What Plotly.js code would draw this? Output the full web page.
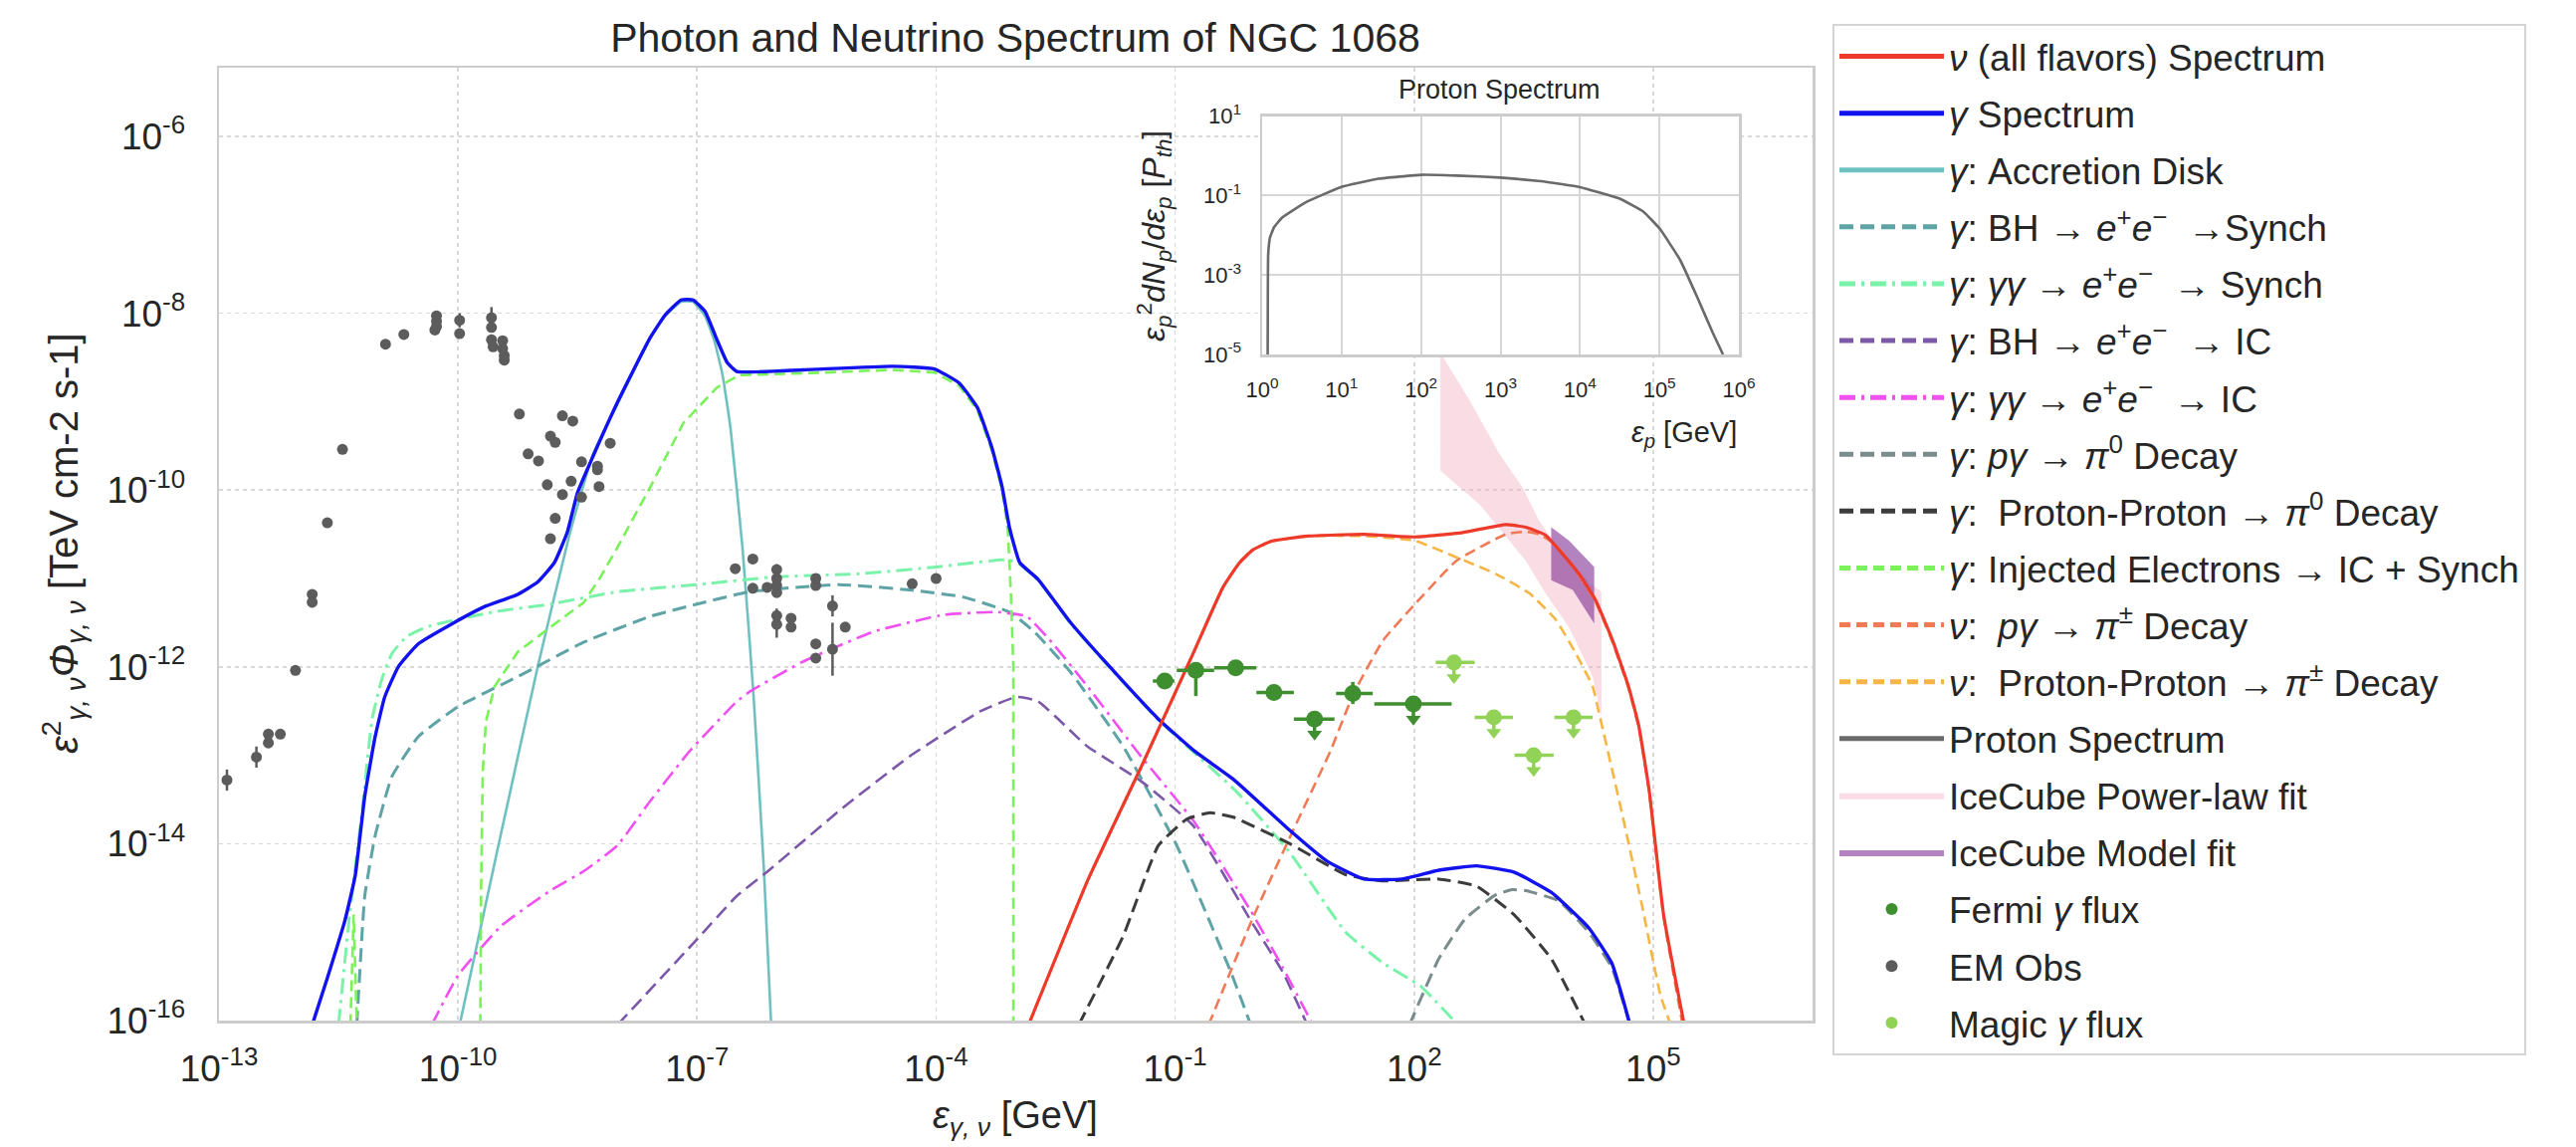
<!DOCTYPE html>
<html><head><meta charset="utf-8">
<script src="https://cdn.plot.ly/plotly-3.0.1.min.js"></script>
<style>html,body{margin:0;padding:0;background:#fff;}#chart{width:2588px;height:1152px;}</style>
</head><body><div id="chart"></div>
<script>
// ---------- DATA (log10 of energy [GeV] and log10 of flux [TeV cm-2 s-1]) ----------
const nuAll_logE = [-2.84,-2.09,-1.42,-0.76,-0.40,-0.20,-0.03,0.20,0.67,1.37,2.00,2.61,3.15,3.40,3.65,3.86,4.07,4.28,4.49,4.69,4.82,4.95,5.13,5.39];
const nuAll_logF = [-16.05,-14.40,-13.12,-11.82,-11.10,-10.83,-10.68,-10.58,-10.52,-10.50,-10.53,-10.48,-10.39,-10.42,-10.51,-10.72,-10.95,-11.25,-11.70,-12.22,-12.67,-13.40,-14.80,-16.05];

const gam_logE = [-11.83,-11.63,-11.42,-11.29,-11.17,-11.04,-10.92,-10.75,-10.50,-10.09,-9.67,-9.25,-9.00,-8.79,-8.63,-8.50,-8.34,-8.00,-7.59,-7.40,-7.20,-7.05,-6.90,-6.75,-6.62,-6.50,-5.67,-4.55,-4.02,-3.71,-3.48,-3.30,-3.17,-3.08,-2.95,-2.72,-2.32,-1.88,-1.21,-0.76,-0.27,0.44,0.91,1.37,1.85,2.31,2.78,3.25,3.72,4.19,4.48,4.71];
const gam_logF = [-16.05,-15.49,-14.87,-14.36,-13.46,-12.79,-12.34,-12.00,-11.74,-11.52,-11.32,-11.18,-11.04,-10.82,-10.48,-10.03,-9.69,-9.01,-8.28,-8.02,-7.85,-7.85,-7.98,-8.30,-8.56,-8.66,-8.64,-8.60,-8.63,-8.79,-9.07,-9.52,-9.97,-10.42,-10.82,-11.01,-11.49,-11.94,-12.59,-12.95,-13.27,-13.85,-14.20,-14.40,-14.40,-14.30,-14.25,-14.32,-14.55,-14.95,-15.35,-16.05];

const disk_logE = [-9.98,-9.50,-9.00,-8.60,-8.30,-8.00,-7.60,-7.40,-7.20,-7.05,-6.90,-6.78,-6.68,-6.58,-6.43,-6.29,-6.16,-6.07];
const disk_logF = [-16.05,-14.05,-12.00,-10.50,-9.58,-9.03,-8.30,-8.03,-7.87,-7.87,-8.03,-8.32,-8.70,-9.30,-10.65,-12.34,-14.31,-16.05];

const bhSyn_logE = [-11.27,-11.17,-11.04,-10.83,-10.50,-10.00,-9.25,-8.42,-7.59,-7.00,-6.34,-5.22,-4.33,-3.66,-3.08,-2.77,-2.32,-1.65,-0.98,-0.31,-0.05];
const bhSyn_logF = [-16.05,-14.59,-13.91,-13.24,-12.79,-12.45,-12.11,-11.72,-11.43,-11.29,-11.15,-11.07,-11.13,-11.21,-11.38,-11.60,-12.05,-12.90,-14.02,-15.43,-16.05];

const ggSyn_logE = [-11.50,-11.36,-11.20,-11.08,-10.96,-10.83,-10.65,-10.40,-10.09,-9.50,-8.84,-8.00,-7.00,-6.00,-5.00,-4.00,-3.17,-3.05,-2.95,-2.72,-2.32,-1.88,-1.21,-0.76,-0.22,0.44,1.14,1.61,2.08,2.55];
const ggSyn_logF = [-16.05,-14.80,-13.60,-12.60,-12.15,-11.85,-11.66,-11.55,-11.48,-11.37,-11.29,-11.15,-11.07,-10.98,-10.95,-10.87,-10.79,-10.80,-10.84,-11.02,-11.50,-11.95,-12.60,-12.97,-13.42,-14.10,-15.00,-15.35,-15.61,-16.05];

const bhIC_logE = [-8.00,-7.00,-6.50,-6.11,-5.22,-4.33,-3.44,-2.99,-2.72,-2.10,-1.43,-0.77,-0.05,0.35,0.66];
const bhIC_logF = [-16.05,-15.08,-14.59,-14.31,-13.63,-13.01,-12.50,-12.34,-12.39,-12.90,-13.29,-13.80,-14.87,-15.45,-16.05];

const ggIC_logE = [-10.33,-10.00,-9.46,-8.84,-8.42,-8.00,-7.59,-7.09,-6.50,-6.34,-5.67,-4.78,-3.90,-3.22,-2.86,-2.55,-2.10,-1.43,-0.77,-0.05,0.35,0.73];
const ggIC_logF = [-16.05,-15.49,-14.93,-14.53,-14.31,-14.02,-13.52,-12.95,-12.39,-12.28,-11.94,-11.60,-11.41,-11.38,-11.43,-11.72,-12.22,-13.01,-13.74,-14.76,-15.40,-16.05];

const pgPi0_logE = [1.94,2.31,2.64,3.02,3.23,3.40,3.82,4.19,4.48,4.71];
const pgPi0_logF = [-16.05,-15.30,-14.85,-14.58,-14.52,-14.53,-14.65,-15.00,-15.40,-16.05];

const ppPi0_logE = [-2.21,-1.65,-1.21,-0.85,-0.56,-0.27,0.44,1.14,1.61,2.31,2.78,3.25,3.72,4.15];
const ppPi0_logF = [-16.05,-15.04,-14.02,-13.72,-13.65,-13.70,-14.00,-14.35,-14.42,-14.40,-14.48,-14.80,-15.30,-16.05];

const inj_logE = [-11.35,-11.31,-11.27,null,-9.72,-9.71,-9.69,-9.65,-9.54,-9.25,-8.84,-8.42,-8.21,-8.00,-7.59,-7.17,-6.75,-6.50,-6.47,-5.67,-4.55,-4.02,-3.71,-3.48,-3.30,-3.17,-3.10,-3.06,-3.03,-3.03];
const inj_logF = [-16.05,-14.80,-16.05,null,-16.05,-14.50,-13.20,-12.62,-12.22,-11.83,-11.55,-11.27,-10.98,-10.65,-9.97,-9.24,-8.84,-8.72,-8.70,-8.68,-8.64,-8.67,-8.82,-9.10,-9.55,-10.00,-10.45,-11.20,-12.00,-16.05];

const nuPg_logE = [-0.58,-0.03,0.48,0.95,1.24,1.61,2.00,2.53,3.15,3.40,3.57,3.78,4.07,4.28,4.49,4.69,4.82,4.95,5.13,5.37];
const nuPg_logF = [-16.05,-14.85,-13.85,-12.95,-12.30,-11.70,-11.30,-10.80,-10.50,-10.47,-10.50,-10.62,-10.97,-11.27,-11.72,-12.24,-12.69,-13.42,-14.82,-16.05];

const nuPp_logE = [-2.84,-2.09,-1.42,-0.76,-0.40,-0.20,-0.03,0.20,0.67,1.37,2.00,2.53,3.03,3.45,3.78,4.03,4.24,4.32,4.62,4.86,5.09,5.22];
const nuPp_logF = [-16.05,-14.40,-13.12,-11.82,-11.10,-10.83,-10.68,-10.58,-10.52,-10.52,-10.57,-10.76,-10.95,-11.17,-11.47,-11.85,-12.22,-12.52,-13.70,-14.70,-15.71,-16.05];

// inset: proton spectrum, log10(eps_p [GeV]) and log10(eps^2 dN/deps [P_th])
const prot_logE = [0.070,0.072,0.076,0.10,0.15,0.25,0.55,0.99,1.46,2.00,2.45,3.00,3.51,4.00,4.50,4.80,5.01,5.26,5.48,5.67,5.80];
const prot_logN = [-5.00,-3.50,-2.50,-2.05,-1.80,-1.56,-1.17,-0.79,-0.58,-0.48,-0.50,-0.55,-0.64,-0.79,-1.08,-1.41,-1.85,-2.62,-3.58,-4.45,-5.00];

// IceCube bands (polygon outlines)
const icPL_logE = [2.33,2.70,3.07,3.36,3.57,3.74,4.00,4.20,4.35,4.35,4.24,3.94,3.65,3.40,2.82,2.33,2.33];
const icPL_logF = [-8.45,-8.99,-9.59,-9.97,-10.35,-10.57,-10.85,-11.05,-11.15,-12.56,-12.11,-11.55,-11.17,-10.80,-10.16,-9.78,-8.45];
const icMod_logE = [3.72,3.94,4.26,4.26,3.99,3.72,3.72];
const icMod_logF = [-10.42,-10.57,-10.87,-11.51,-11.13,-11.02,-10.42];

// Fermi points
const fermi_logE = [-1.13,-0.74,-0.24,0.24,0.75,1.23,1.99];
const fermi_logF = [-12.16,-12.04,-12.01,-12.29,-12.59,-12.30,-12.42];
const fermi_binLo = [-1.28,-0.98,-0.51,0.02,0.49,1.02,1.50];
const fermi_binHi = [-1.01,-0.51,0.02,0.49,1.00,1.48,2.47];
const fermi_errUp = [0.02,0.09,0.02,0.02,0.02,0.13,0.02];
const fermi_errDn = [0.02,0.29,0.02,0.02,0.20,0.12,0.20];
const fermi_uplim = [0,0,0,0,1,0,1];

// MAGIC points (upper limits)
const magic_logE = [2.50,3.00,3.50,4.00];
const magic_logF = [-11.95,-12.57,-13.00,-12.57];
const magic_binLo = [2.27,2.76,3.26,3.76];
const magic_binHi = [2.76,3.24,3.75,4.24];

// EM observations
const em_logE = [-12.90,-12.53,-12.38,-12.38,-12.23,-12.04,-11.83,-11.83,-11.64,-11.45,-10.91,-10.68,-10.27,-10.27,-10.27,-10.29,-9.98,-9.98,-9.58,-9.58,-9.58,-9.56,-9.44,-9.44,-9.42,-9.42,
  -9.23,-8.69,-8.56,-8.84,-8.78,-8.09,-9.12,-8.99,-8.45,-8.25,-8.25,-8.88,-8.58,-8.69,-8.45,-8.23,-8.78,-8.84,
  -6.52,-6.30,-6.30,-6.12,-6.00,-6.00,-6.00,-6.00,-6.00,-6.00,-5.82,-5.82,-5.51,-5.51,-5.51,-5.51,-5.30,-5.30,-5.14,-4.30,-4.00];
const em_logF = [-13.28,-13.02,-12.76,-12.86,-12.76,-12.04,-11.18,-11.27,-10.37,-9.54,-8.35,-8.24,-8.03,-8.09,-8.15,-8.19,-8.08,-8.23,-8.05,-8.16,-8.30,-8.38,-8.31,-8.40,-8.48,-8.53,
  -9.14,-9.16,-9.22,-9.39,-9.46,-9.47,-9.59,-9.67,-9.68,-9.73,-9.77,-9.94,-9.90,-10.05,-10.08,-9.96,-10.32,-10.55,
  -10.89,-10.78,-11.11,-11.10,-10.90,-11.00,-11.08,-11.16,-11.42,-11.52,-11.45,-11.55,-11.00,-11.08,-11.74,-11.90,-11.31,-11.80,-11.55,-11.06,-11.00];
const em_errDex = [0.12,0.12,0.04,0.04,0.05,0.04,0.04,0.04,0.03,0.03,0.03,0.03,0.04,0.04,0.04,0.04,0.08,0.04,0.12,0.05,0.05,0.05,0.05,0.05,0.05,0.05,
  0.03,0.03,0.03,0.03,0.03,0.03,0.03,0.03,0.03,0.03,0.03,0.03,0.03,0.03,0.03,0.03,0.03,0.03,
  0.03,0.03,0.03,0.03,0.06,0.05,0.05,0.05,0.08,0.15,0.05,0.05,0.05,0.05,0.05,0.05,0.12,0.30,0.04,0.03,0.03];

// ---------- helpers ----------
const P = v => (v === null ? null : Math.pow(10, v));
const L = a => a.map(P);
const FONT = 'Liberation Sans, Arial, Helvetica, sans-serif';
const TXT = '#262626';

function curve(name, le, lf, color, width, dash, rank, shape) {
  return {type:'scatter', mode:'lines', name:name, legendgroup:'g'+rank, x:L(le), y:L(lf), legendrank:rank,
    line:{color:color, width:width, dash:dash || 'solid', shape: shape || 'spline', smoothing:0.4},
    connectgaps:false, hoverinfo:'skip', cliponaxis:true};
}

const traces = [];
// bands first (behind the lines)
traces.push({type:'scatter', mode:'lines', name:'IceCube Power-law fit', legendgroup:'g14', x:L(icPL_logE), y:L(icPL_logF),
  fill:'toself', fillcolor:'rgba(245,180,196,0.45)', line:{width:0, color:'rgba(0,0,0,0)'}, legendrank:14, hoverinfo:'skip'});
traces.push({type:'scatter', mode:'lines', name:'IceCube Model fit', legendgroup:'g15', x:L(icMod_logE), y:L(icMod_logF),
  fill:'toself', fillcolor:'rgba(128,48,148,0.6)', line:{width:0, color:'rgba(0,0,0,0)'}, legendrank:15, hoverinfo:'skip'});

const DASH = '14px,7px', DASHT = '11px,6px', DDOT = '16px,6px,3px,6px';
traces.push(curve('<i>γ</i>: Accretion Disk', disk_logE, disk_logF, '#6fc1c1', 2.6, 'solid', 3));
traces.push(curve('<i>γ</i>: BH → <i>e</i><sup>+</sup><i>e</i><sup>−</sup>  →Synch', bhSyn_logE, bhSyn_logF, '#5ea3a6', 3, DASH, 4));
traces.push(curve('<i>γ</i>: <i>γγ</i> → <i>e</i><sup>+</sup><i>e</i><sup>−</sup>  → Synch', ggSyn_logE, ggSyn_logF, '#7af2aa', 3, DDOT, 5));
traces.push(curve('<i>γ</i>: BH → <i>e</i><sup>+</sup><i>e</i><sup>−</sup>  → IC', bhIC_logE, bhIC_logF, '#7c58a8', 2.6, DASH, 6));
traces.push(curve('<i>γ</i>: <i>γγ</i> → <i>e</i><sup>+</sup><i>e</i><sup>−</sup>  → IC', ggIC_logE, ggIC_logF, '#f050f0', 2.6, DDOT, 7));
traces.push(curve('<i>γ</i>: <i>pγ</i> → <i>π</i><sup>0</sup> Decay', pgPi0_logE, pgPi0_logF, '#7a8c8c', 3, DASH, 8));
traces.push(curve('<i>γ</i>:  Proton-Proton → <i>π</i><sup>0</sup> Decay', ppPi0_logE, ppPi0_logF, '#3c3c3c', 3, DASH, 9));
traces.push(curve('<i>γ</i>: Injected Electrons → IC + Synch', inj_logE, inj_logF, '#7af25a', 2.6, DASHT, 10, 'linear'));
traces.push(curve('<i>ν</i>:  <i>pγ</i> → <i>π</i><sup>±</sup> Decay', nuPg_logE, nuPg_logF, '#f07a55', 2.6, DASHT, 11));
traces.push(curve('<i>ν</i>:  Proton-Proton → <i>π</i><sup>±</sup> Decay', nuPp_logE, nuPp_logF, '#f6b545', 2.6, DASHT, 12));
traces.push(curve('<i>γ</i> Spectrum', gam_logE, gam_logF, '#1212ee', 3.4, 'solid', 2));
traces.push(curve('<i>ν</i> (all flavors) Spectrum', nuAll_logE, nuAll_logF, '#ee3a2a', 3.2, 'solid', 1));

// proton spectrum in inset
traces.push({type:'scatter', mode:'lines', name:'Proton Spectrum', legendgroup:'g13', x:L(prot_logE), y:L(prot_logN), xaxis:'x2', yaxis:'y2',
  line:{color:'#6a6a6a', width:2.6, shape:'spline', smoothing:0.3}, legendrank:13, hoverinfo:'skip'});

// Fermi
const fx = L(fermi_logE), fy = L(fermi_logF);
traces.push({type:'scatter', mode:'markers', name:'Fermi <i>γ</i> flux', legendgroup:'g16', x:fx, y:fy, legendrank:16,
  marker:{color:'#3f8f30', size:17},
  error_x:{type:'data', symmetric:false, array:fermi_binHi.map((h,i)=>P(h)-fx[i]), arrayminus:fermi_binLo.map((l,i)=>fx[i]-P(l)), color:'#3f8f30', thickness:3.5, width:0},
  error_y:{type:'data', symmetric:false, array:fermi_errUp.map((u,i)=>fy[i]*(P(u)-1)), arrayminus:fermi_errDn.map((d,i)=>fy[i]*(1-P(-d))), color:'#3f8f30', thickness:3.5, width:0},
  hoverinfo:'skip'});
traces.push({type:'scatter', mode:'markers', showlegend:false, legendgroup:'g16', x:fermi_logE.filter((v,i)=>fermi_uplim[i]).map(P),
  y:fermi_logF.filter((v,i)=>fermi_uplim[i]).map(v=>P(v-0.17)), marker:{symbol:'triangle-down', color:'#3f8f30', size:13}, hoverinfo:'skip'});

// EM obs
const ey = L(em_logF);
traces.push({type:'scatter', mode:'markers', name:'EM Obs', legendgroup:'g17', x:L(em_logE), y:ey, legendrank:17,
  marker:{color:'#5c5c5c', size:11},
  error_y:{type:'data', symmetric:false, array:em_errDex.map((e,i)=>ey[i]*(P(e)-1)), arrayminus:em_errDex.map((e,i)=>ey[i]*(1-P(-e))), color:'#5c5c5c', thickness:2.5, width:0},
  hoverinfo:'skip'});

// MAGIC
const mx = L(magic_logE), my = L(magic_logF);
traces.push({type:'scatter', mode:'markers', name:'Magic <i>γ</i> flux', legendgroup:'g18', x:mx, y:my, legendrank:18,
  marker:{color:'#92d257', size:16},
  error_x:{type:'data', symmetric:false, array:magic_binHi.map((h,i)=>P(h)-mx[i]), arrayminus:magic_binLo.map((l,i)=>mx[i]-P(l)), color:'#92d257', thickness:3.5, width:0},
  error_y:{type:'data', symmetric:false, array:my.map(v=>v*(P(0.03)-1)), arrayminus:my.map(v=>v*(1-P(-0.2))), color:'#92d257', thickness:3.5, width:0},
  hoverinfo:'skip'});
traces.push({type:'scatter', mode:'markers', showlegend:false, legendgroup:'g18', x:mx, y:magic_logF.map(v=>P(v-0.17)),
  marker:{symbol:'triangle-down', color:'#92d257', size:13}, hoverinfo:'skip'});

// ---------- axes ----------
const xMainTicks = [-13,-10,-7,-4,-1,2,5];
const yMainTicks = [-16,-14,-12,-10,-8,-6];
const xInsetTicks = [0,1,2,3,4,5,6];
const yInsetTicks = [1,-1,-3,-5];
const sup = e => '10<sup>' + e + '</sup>';

const W = 2588, H = 1152;
const layout = {
  width: W, height: H, margin:{l:0, r:0, t:0, b:0},
  paper_bgcolor:'#ffffff', plot_bgcolor:'#ffffff',
  font:{family:FONT, color:TXT, size:37},
  showlegend:true,
  title:{text:'Photon and Neutrino Spectrum of NGC 1068', x:1020/W, xanchor:'center', y:1-38/H, yanchor:'middle',
    font:{family:FONT, size:41, color:TXT}},
  xaxis:{type:'log', domain:[220/W, 1821/W], range:[-13, 7], anchor:'y',
    tickvals:xMainTicks.map(P), ticktext:xMainTicks.map(sup), tickfont:{size:37, color:TXT},
    showgrid:true, gridcolor:'#d9d9d9', gridwidth:1.6, griddash:'4px,4px',
    showline:true, linecolor:'#cccccc', linewidth:2.5, mirror:true, ticks:'', ticklabelstandoff:14, zeroline:false},
  yaxis:{type:'log', domain:[1-1025/H, 1-68/H], range:[-16, -5.223], anchor:'x',
    tickvals:yMainTicks.map(P), ticktext:yMainTicks.map(sup), tickfont:{size:37, color:TXT},
    showgrid:true, gridcolor:'#d9d9d9', gridwidth:1.6, griddash:'4px,4px',
    showline:true, linecolor:'#cccccc', linewidth:2.5, mirror:true, ticks:'', ticklabelstandoff:24, zeroline:false},
  xaxis2:{type:'log', domain:[1268/W, 1747/W], range:[0, 6], anchor:'y2',
    tickvals:xInsetTicks.map(P), ticktext:xInsetTicks.map(sup), tickfont:{size:22, color:TXT},
    showgrid:true, gridcolor:'#d6d6d6', gridwidth:2,
    showline:true, linecolor:'#cccccc', linewidth:2.5, mirror:true, ticks:'', ticklabelstandoff:14, zeroline:false},
  yaxis2:{type:'log', domain:[1-356/H, 1-116.5/H], range:[-5, 1], anchor:'x2',
    tickvals:yInsetTicks.map(P), ticktext:yInsetTicks.map(sup), tickfont:{size:22, color:TXT},
    showgrid:true, gridcolor:'#d6d6d6', gridwidth:2,
    showline:true, linecolor:'#cccccc', linewidth:2.5, mirror:true, ticks:'', ticklabelstandoff:14, zeroline:false},
  legend:{x:1841/W, y:1-24/H, xanchor:'left', yanchor:'top', bgcolor:'#ffffff', bordercolor:'#d4d4d4', borderwidth:2,
    font:{family:FONT, size:37, color:TXT}, traceorder:'grouped', tracegroupgap:6, itemsizing:'constant', itemwidth:105},
  annotations:[
    {xref:'paper', yref:'paper', x:1020/W, y:1-1123/H, xanchor:'center', yanchor:'middle', showarrow:false,
      text:'<i>ε</i><sub><i>γ, ν</i></sub> [GeV]', font:{family:FONT, size:38, color:TXT}},
    {xref:'paper', yref:'paper', x:64/W, y:1-546/H, xanchor:'center', yanchor:'middle', showarrow:false, textangle:-90,
      text:'<i>ε</i><sup>2</sup><sub><i>γ, ν</i></sub><i>Φ</i><sub><i>γ, ν</i></sub> [TeV cm-2 s-1]', font:{family:FONT, size:40, color:TXT}},
    {xref:'paper', yref:'paper', x:1507/W, y:1-90/H, xanchor:'center', yanchor:'middle', showarrow:false,
      text:'Proton Spectrum', font:{family:FONT, size:27, color:TXT}},
    {xref:'paper', yref:'paper', x:1747/W, y:1-436/H, xanchor:'right', yanchor:'middle', showarrow:false,
      text:'<i>ε</i><sub><i>p</i></sub> [GeV]', font:{family:FONT, size:29, color:TXT}},
    {xref:'paper', yref:'paper', x:1160/W, y:1-237/H, xanchor:'center', yanchor:'middle', showarrow:false, textangle:-90,
      text:'<i>ε</i><sub><i>p</i></sub><sup>2</sup><i>dN</i><sub><i>p</i></sub>/<i>dε</i><sub><i>p</i></sub> [<i>P</i><sub><i>th</i></sub>]', font:{family:FONT, size:32, color:TXT}}
  ]
};

Plotly.newPlot('chart', traces, layout, {displayModeBar:false, staticPlot:true});
</script></body></html>
